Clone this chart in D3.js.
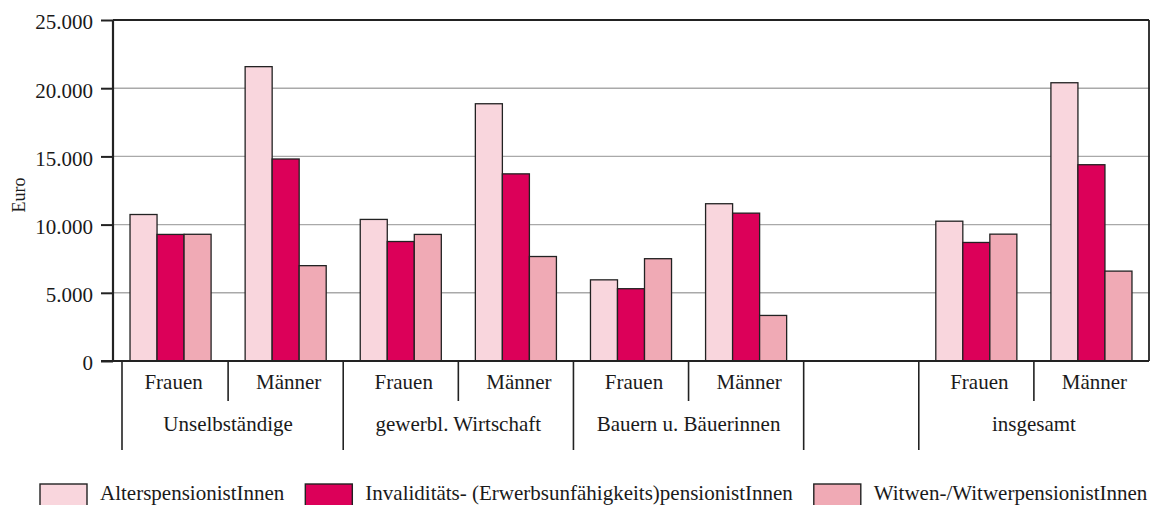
<!DOCTYPE html>
<html><head><meta charset="utf-8">
<script src="https://cdn.jsdelivr.net/npm/d3@7"></script>
<style>
html,body{margin:0;padding:0;background:#fff;}
</style></head>
<body><svg id="c" width="1159" height="505" style="font-family:'Liberation Serif','DejaVu Serif',serif"></svg>
<script>
const slots = ["U-F","U-M","G-F","G-M","B-F","B-M","empty","I-F","I-M"];
const slotLabels = ["Frauen","Männer","Frauen","Männer","Frauen","Männer","","Frauen","Männer"];
const groups = ["Unselbständige","gewerbl. Wirtschaft","Bauern u. Bäuerinnen","","insgesamt"];
const groupSpans = [[0,2],[2,4],[4,6],[6,7],[7,9]];
const seriesNames = ["AlterspensionistInnen","Invaliditäts- (Erwerbsunfähigkeits)pensionistInnen","Witwen-/WitwerpensionistInnen"];
const alters =    [10740, 21580, 10380, 18860, 5950, 11530, null, 10250, 20400];
const invalid =   [9280, 14810, 8760, 13720, 5300, 10840, null, 8690, 14390];
const witwen =    [9290, 6990, 9280, 7660, 7500, 3340, null, 9300, 6590];
const yTicks = [0, 5000, 10000, 15000, 20000, 25000];
const yTickLabels = ["0","5.000","10.000","15.000","20.000","25.000"];
const colors = ["#f9d6dd","#dc0059","#f0aab5"];

const FONT = "'Liberation Serif','DejaVu Serif',serif";
const svg = d3.select("#c");
const L = 113, R = 1149, T = 20, B = 361;
const x = d3.scaleBand().domain(slots).range([L, R]).padding(0);
const xs = d3.scaleBand().domain(d3.range(3)).range([0, x.bandwidth()]).paddingInner(0).paddingOuter(0.63);
const y = d3.scaleLinear().domain([0, 25000]).range([B, T]);
const series = [alters, invalid, witwen];

function txt(sel, size) {
  return sel.style("font-family", FONT).attr("font-size", size).attr("fill", "#1a1a1a");
}

// gridlines
svg.append("g").selectAll("line").data(yTicks.filter(v => v > 0 && v < 25000)).join("line")
  .attr("x1", L).attr("x2", R + 1).attr("y1", d => y(d)).attr("y2", d => y(d))
  .attr("stroke", "#a9a9a9").attr("stroke-width", 1.4);

// y axis
const yAxis = d3.axisLeft(y).tickValues(yTicks).tickFormat((d,i) => yTickLabels[i]).tickSize(12).tickPadding(8);
const ya = svg.append("g").attr("transform", `translate(${L},0)`).call(yAxis);
ya.attr("font-family", null);
ya.select(".domain").remove();
ya.selectAll("line").attr("stroke", "#222").attr("stroke-width", 2);
txt(ya.selectAll("text"), 21).attr("dy", "0.42em");

// bars
slots.forEach((s, i) => {
  series.forEach((arr, k) => {
    const v = arr[i];
    if (v == null) return;
    svg.append("rect")
      .attr("x", x(s) + xs(k)).attr("width", xs.bandwidth())
      .attr("y", y(v)).attr("height", y(0) - y(v))
      .attr("fill", colors[k]).attr("stroke", "#222").attr("stroke-width", 1.3);
  });
});

// frame
svg.append("line").attr("x1", L).attr("x2", L).attr("y1", T).attr("y2", B).attr("stroke", "#222").attr("stroke-width", 2.2);
svg.append("line").attr("x1", L).attr("x2", R).attr("y1", T).attr("y2", T).attr("stroke", "#222").attr("stroke-width", 2);
svg.append("line").attr("x1", R).attr("x2", R).attr("y1", T).attr("y2", B).attr("stroke", "#222").attr("stroke-width", 1.8);
svg.append("line").attr("x1", 101).attr("x2", R).attr("y1", B).attr("y2", B).attr("stroke", "#222").attr("stroke-width", 2);

// category separator lines
const seps = [];
slots.forEach((s, i) => {
  const isGroup = groupSpans.some(g => g[0] === i);
  seps.push({x: i === 0 ? x(s) + 9 : x(s), long: isGroup});
});
svg.append("g").selectAll("line").data(seps).join("line")
  .attr("x1", d => d.x).attr("x2", d => d.x)
  .attr("y1", B).attr("y2", d => d.long ? 450 : 401)
  .attr("stroke", "#222").attr("stroke-width", 1.6);

// slot labels
txt(svg.append("g").selectAll("text").data(slots).join("text"), 21)
  .attr("x", d => x(d) + x.bandwidth() / 2 + 3).attr("y", 389)
  .attr("text-anchor", "middle")
  .text((d, i) => slotLabels[i]);

// group labels
txt(svg.append("g").selectAll("text").data(groups).join("text"), 21)
  .attr("x", (d, i) => (x(slots[groupSpans[i][0]]) + x(slots[groupSpans[i][1]-1]) + x.bandwidth()) / 2)
  .attr("y", 431).attr("text-anchor", "middle")
  .text(d => d);

// y title
txt(svg.append("text"), 18).attr("transform", "translate(25,195) rotate(-90)")
  .attr("text-anchor", "middle").text("Euro");

// legend (laid out sequentially from measured text widths)
let cx = 40;
seriesNames.forEach((name, i) => {
  const g = svg.append("g").attr("transform", `translate(${cx},484)`);
  g.append("rect").attr("width", 47).attr("height", 24).attr("fill", colors[i])
    .attr("stroke", "#222").attr("stroke-width", 1.4);
  const t = txt(g.append("text"), 21).attr("x", 60).attr("y", 15.5).text(name);
  cx += 60 + t.node().getComputedTextLength() + 21;
});
</script></body></html>
